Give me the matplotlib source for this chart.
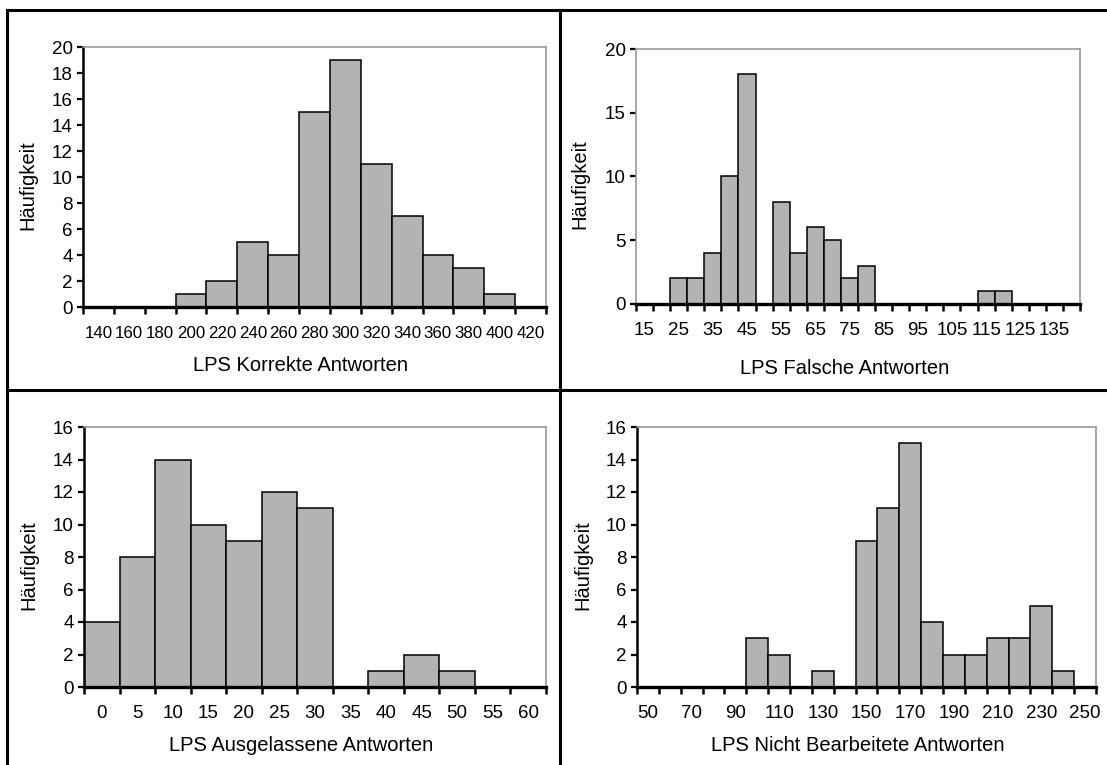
import numpy as np
import matplotlib
matplotlib.use("Agg")
import matplotlib.pyplot as plt
from matplotlib import font_manager
from matplotlib.lines import Line2D

# Schrift: schmale Arial-Variante, falls vorhanden
namen = {f.name for f in font_manager.fontManager.ttflist}
if "Liberation Sans Narrow" in namen:
    plt.rcParams["font.family"] = ["Liberation Sans Narrow", "DejaVu Sans"]
else:
    plt.rcParams["font.family"] = ["Liberation Sans", "DejaVu Sans"]

# Daten (Häufigkeiten je Klasse)
korrekt_kat = [140, 160, 180, 200, 220, 240, 260, 280, 300, 320, 340, 360, 380, 400, 420]
korrekt_n = [0, 0, 0, 1, 2, 5, 4, 15, 19, 11, 7, 4, 3, 1, 0]

falsch_kat = [15, 20, 25, 30, 35, 40, 45, 50, 55, 60, 65, 70, 75, 80, 85, 90, 95,
              100, 105, 110, 115, 120, 125, 130, 135, 140]
falsch_n = [0, 0, 2, 2, 4, 10, 18, 0, 8, 4, 6, 5, 2, 3, 0, 0, 0,
            0, 0, 0, 1, 1, 0, 0, 0, 0]

ausgel_kat = [0, 5, 10, 15, 20, 25, 30, 35, 40, 45, 50, 55, 60]
ausgel_n = [4, 8, 14, 10, 9, 12, 11, 0, 1, 2, 1, 0, 0]

nicht_kat = [50, 60, 70, 80, 90, 100, 110, 120, 130, 140, 150, 160, 170, 180,
             190, 200, 210, 220, 230, 240, 250]
nicht_n = [0, 0, 0, 0, 0, 3, 2, 0, 1, 0, 9, 11, 15, 4, 2, 2, 3, 3, 5, 1, 0]

W, H = 1107, 765
fig = plt.figure(figsize=(W / 100, H / 100), dpi=100)


def px_axes(l, r, t, b):
    return [l / W, 1 - b / H, (r - l) / W, (b - t) / H]


panels = [
    # kategorien, werte, xlabel, ymax, ystep, label-intervall, axes px, linke achse grau,
    # ylabel x, xlabel pos, groesse x-beschriftung
    (korrekt_kat, korrekt_n, "LPS Korrekte Antworten", 20, 2, 1, (83, 546, 47, 307), False, -0.099, (0.47, -0.19), 12.2),
    (falsch_kat, falsch_n, "LPS Falsche Antworten", 20, 5, 2, (636, 1080, 49, 304), True, -0.104, (0.47, -0.215), 13.5),
    (ausgel_kat, ausgel_n, "LPS Ausgelassene Antworten", 16, 2, 1, (84, 546, 427, 687), False, -0.099, (0.47, -0.19), 13.5),
    (nicht_kat, nicht_n, "LPS Nicht Bearbeitete Antworten", 16, 2, 2, (637, 1096, 427, 687), False, -0.098, (0.48, -0.19), 13.5),
]

for kat, werte, xlab, ymax, ystep, step, box, grau, ylx, xlpos, xfs in panels:
    ax = fig.add_axes(px_axes(*box))
    n = len(kat)
    x = np.arange(n)
    ax.bar(x, werte, width=1.0, color="#b3b3b3", edgecolor="black", linewidth=1.1, zorder=2)
    ax.set_xlim(-0.5, n - 0.5)
    ax.set_ylim(0, ymax)
    ax.set_yticks(np.arange(0, ymax + 1, ystep))

    # Teilstriche an den Klassengrenzen, Beschriftung in der Mitte
    ax.set_xticks(np.arange(n + 1) - 0.5)
    ax.set_xticklabels([])
    ax.set_xticks(x[::step], minor=True)
    ax.set_xticklabels([str(k) for k in kat[::step]], minor=True)
    ax.tick_params(axis="x", which="major", direction="out", length=5, width=1.8, color="black")
    ax.tick_params(axis="x", which="minor", length=0, pad=13 + (13.5 - xfs) * 0.5, labelsize=xfs)
    ax.tick_params(axis="y", direction="out", length=4.5, width=1.6, pad=3, labelsize=13.5)

    for s in ("top", "right"):
        ax.spines[s].set_color("#999999")
        ax.spines[s].set_linewidth(1.2)
    ax.spines["bottom"].set_color("black")
    ax.spines["bottom"].set_linewidth(2.4)
    ax.spines["bottom"].set_zorder(3)
    ax.spines["left"].set_color("#999999" if grau else "black")
    ax.spines["left"].set_linewidth(1.2 if grau else 1.8)

    ax.set_ylabel("Häufigkeit", fontsize=14.5)
    ax.yaxis.set_label_coords(ylx, 0.47)
    ax.set_xlabel(xlab, fontsize=14.5)
    ax.xaxis.set_label_coords(*xlpos)

# Rahmenlinien wie in der Tabelle
lw = 2.2
rahmen = [
    ((7, 7), (10, H)),
    ((7, W), (10, 10)),
    ((560, 560), (10, H)),
    ((7, W), (390, 390)),
]
for xs, ys in rahmen:
    fig.add_artist(Line2D([v / W for v in xs], [1 - v / H for v in ys],
                          transform=fig.transFigure, color="black", linewidth=lw))

fig.savefig("out.png", dpi=100)
